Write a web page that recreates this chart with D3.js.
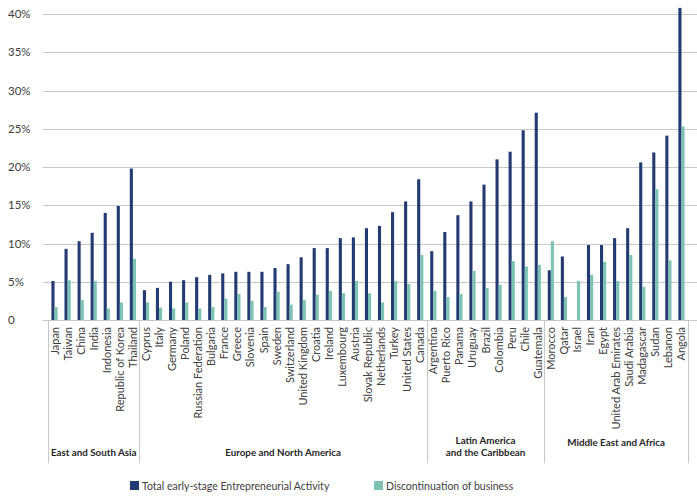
<!DOCTYPE html>
<html>
<head>
<meta charset="utf-8">
<script src="https://cdn.jsdelivr.net/npm/d3@7"></script>
<style>
  body { margin: 0; background: #fff; }
  text { font-family: Lato, "Open Sans", sans-serif; }
</style>
</head>
<body>
<svg id="chart"></svg>
<script>
// Data
const countries = [
  "Japan", "Taiwan", "China", "India", "Indonesia", "Republic of Korea", "Thailand",
  "Cyprus", "Italy", "Germany", "Poland", "Russian Federation", "Bulgaria", "France",
  "Greece", "Slovenia", "Spain", "Sweden", "Switzerland", "United Kingdom", "Croatia",
  "Ireland", "Luxembourg", "Austria", "Slovak Republic", "Netherlands", "Turkey",
  "United States", "Canada",
  "Argentina", "Puerto Rico", "Panama", "Uruguay", "Brazil", "Colombia", "Peru", "Chile", "Guatemala",
  "Morocco", "Qatar", "Israel", "Iran", "Egypt", "United Arab Emirates", "Saudi Arabia",
  "Madagascar", "Sudan", "Lebanon", "Angola"
];

const teaValues = [
  5.1, 9.3, 10.3, 11.4, 14.0, 14.9, 19.8,
  3.9, 4.2, 5.0, 5.2, 5.6, 5.9, 6.1, 6.3, 6.3, 6.3, 6.8, 7.3, 8.2, 9.4,
  9.4, 10.7, 10.8, 12.0, 12.3, 14.1, 15.5, 18.4,
  9.0, 11.5, 13.7, 15.5, 17.7, 21.0, 22.0, 24.8, 27.1,
  6.5, 8.3, null, 9.8, 9.8, 10.7, 12.0, 20.6, 21.9, 24.1, 40.8
];

const discValues = [
  1.7, 5.2, 2.6, 5.1, 1.5, 2.3, 8.0,
  2.3, 1.6, 1.5, 2.3, 1.5, 1.7, 2.8, 3.4, 2.5, 1.7, 3.7, 2.0, 2.6, 3.3,
  3.8, 3.5, 5.1, 3.5, 2.3, 5.1, 4.7, 8.5,
  3.8, 3.0, 3.4, 6.4, 4.2, 4.6, 7.7, 7.0, 7.2,
  10.3, 3.0, 5.1, 5.9, 7.6, 5.1, 8.5, 4.3, 17.1, 7.8, 25.3
];

const regions = [["East and South Asia"], ["Europe and North America"], ["Latin America", "and the Caribbean"], ["Middle East and Africa"]];
const regionSizes = [7, 22, 9, 11];

const yTicks = [0, 5, 10, 15, 20, 25, 30, 35, 40];
const seriesNames = ["Total early-stage Entrepreneurial Activity", "Discontinuation of business"];
const seriesKeys = ["tea", "disc"];
const colors = ["#233b72", "#7cc3b4"];

// Set up the dimensions
const width = 697, height = 503;
const plotLeft = 48, plotRight = 688, gridLeft = 43, gridRight = 697;
const yTop = 14, yBottom = 320;

const svg = d3.select("#chart")
  .attr("width", width)
  .attr("height", height);

const data = countries.map((c, i) => ({ country: c, tea: teaValues[i], disc: discValues[i] }));

// Scales
const x = d3.scaleBand()
  .domain(countries)
  .range([plotLeft, plotRight])
  .padding(0);

const bw = x.bandwidth();
const x1 = d3.scaleBand()
  .domain(seriesKeys)
  .range([bw / 2 - 3.1, bw / 2 + 3.1]);

const y = d3.scaleLinear()
  .domain([0, 40])
  .range([yBottom, yTop]);

const color = d3.scaleOrdinal().domain(seriesKeys).range(colors);

// Gridlines
svg.append("g")
  .selectAll("line")
  .data(yTicks)
  .enter().append("line")
  .attr("x1", gridLeft)
  .attr("x2", gridRight)
  .attr("y1", d => Math.round(y(d)) + 0.5)
  .attr("y2", d => Math.round(y(d)) + 0.5)
  .attr("stroke", "#c8c8c8")
  .attr("stroke-width", 1);

// Y labels (left aligned)
svg.append("g")
  .selectAll("text")
  .data(yTicks)
  .enter().append("text")
  .attr("x", 8)
  .attr("y", d => y(d))
  .attr("dy", "0.35em")
  .attr("fill", "#404040")
  .style("font-size", "11.5px")
  .text(d => d === 0 ? "0" : d + "%");

// Bars
const groups = svg.append("g")
  .selectAll("g")
  .data(data)
  .enter().append("g")
  .attr("transform", d => `translate(${x(d.country)},0)`);

groups.selectAll("rect")
  .data(d => seriesKeys.map(k => ({ key: k, value: d[k] })).filter(d => d.value != null))
  .enter().append("rect")
  .attr("x", d => x1(d.key))
  .attr("width", x1.bandwidth())
  .attr("y", d => y(d.value))
  .attr("height", d => y(0) - y(d.value))
  .attr("fill", d => color(d.key));

// Country labels
svg.append("g")
  .selectAll("text")
  .data(countries)
  .enter().append("text")
  .attr("transform", d => `translate(${x(d) + bw / 2 + 4},327) rotate(-90)`)
  .attr("text-anchor", "end")
  .attr("fill", "#404040")
  .style("font-size", "11px")
  .text(d => d);

// Region separators and labels
let start = 0;
const bounds = [0];
regionSizes.forEach(n => { start += n; bounds.push(start); });
const boundX = b => b < countries.length ? x(countries[b]) : plotRight;

svg.append("g")
  .selectAll("line")
  .data(bounds)
  .enter().append("line")
  .attr("x1", d => Math.round(boundX(d)) + 0.5)
  .attr("x2", d => Math.round(boundX(d)) + 0.5)
  .attr("y1", yBottom)
  .attr("y2", 463)
  .attr("stroke", "#c8c8c8");

const regionLabelY = [456, 456, 444, 446];
regions.forEach((lines, i) => {
  const cx = (boundX(bounds[i]) + boundX(bounds[i + 1])) / 2;
  lines.forEach((line, j) => {
    svg.append("text")
      .attr("x", cx)
      .attr("y", regionLabelY[i] + j * 12)
      .attr("text-anchor", "middle")
      .attr("fill", "#262626")
      .style("font-size", "9.8px")
      .style("font-weight", "bold")
      .text(line);
  });
});

// Legend
const legendX = [130, 374];
const legend = svg.append("g")
  .selectAll("g")
  .data(seriesNames)
  .enter().append("g")
  .attr("transform", (d, i) => `translate(${legendX[i]},481)`);

legend.append("rect")
  .attr("width", 9)
  .attr("height", 9)
  .attr("fill", (d, i) => colors[i]);

legend.append("text")
  .attr("x", 12)
  .attr("y", 5)
  .attr("dy", "0.35em")
  .attr("fill", "#404040")
  .style("font-size", "10.5px")
  .text(d => d);
</script>
</body>
</html>
